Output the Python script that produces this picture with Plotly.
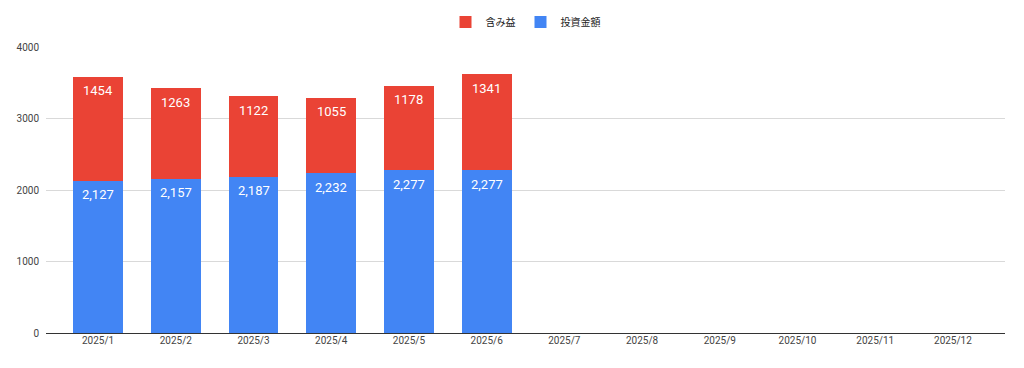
import plotly.graph_objects as go

categories = [f"2025/{m}" for m in range(1, 13)]
investment = [2127, 2157, 2187, 2232, 2277, 2277, None, None, None, None, None, None]
gain = [1454, 1263, 1122, 1055, 1178, 1341, None, None, None, None, None, None]
y_ticks = [0, 1000, 2000, 3000, 4000]

W, H = 1016, 360
T, B, L, R = 39, 35, 38, 19

fig = go.Figure()
fig.add_trace(go.Bar(
    x=categories, y=investment, name="投資金額",
    marker=dict(color="#4285F4", line=dict(width=0)),
    width=0.64,
))
fig.add_trace(go.Bar(
    x=categories, y=gain, name="含み益",
    marker=dict(color="#EA4335", line=dict(width=0)),
    width=0.64,
))

label_font = dict(color="white", size=13, family="Roboto")
for c, inv, g in zip(categories, investment, gain):
    if inv is None:
        continue
    fig.add_annotation(x=c, y=inv, text=f"{inv:,}", showarrow=False,
                       yanchor="middle", yshift=-14, font=label_font)
    fig.add_annotation(x=c, y=inv + g, text=str(g), showarrow=False,
                       yanchor="middle", yshift=-14, font=label_font)

fig.update_layout(
    width=W, height=H,
    barmode="stack",
    plot_bgcolor="white", paper_bgcolor="white",
    font=dict(family="Roboto, 'Noto Sans CJK JP'", size=10, color="#444444"),
    margin=dict(l=L, r=R, t=T, b=B, autoexpand=False),
    legend=dict(orientation="h", x=0.5, xanchor="center",
                y=1 + (T - 14) / (H - T - B), yanchor="middle", traceorder="reversed",
                font=dict(size=10, color="#222222")),
    showlegend=True,
)
fig.update_xaxes(
    type="category", range=[-0.67, 11.67], automargin=False,
    showgrid=False, showline=False, ticks="",
    tickfont=dict(size=10, color="#444444"),
)
fig.update_yaxes(
    range=[0, 4000], tickvals=y_ticks, automargin=False,
    showgrid=True, gridcolor="#d9d9d9", gridwidth=1,
    zeroline=True, zerolinecolor="#333333", zerolinewidth=1,
    ticks="", ticklabelstandoff=6,
    tickfont=dict(size=10, color="#444444"),
)

fig.write_html("out.html")
